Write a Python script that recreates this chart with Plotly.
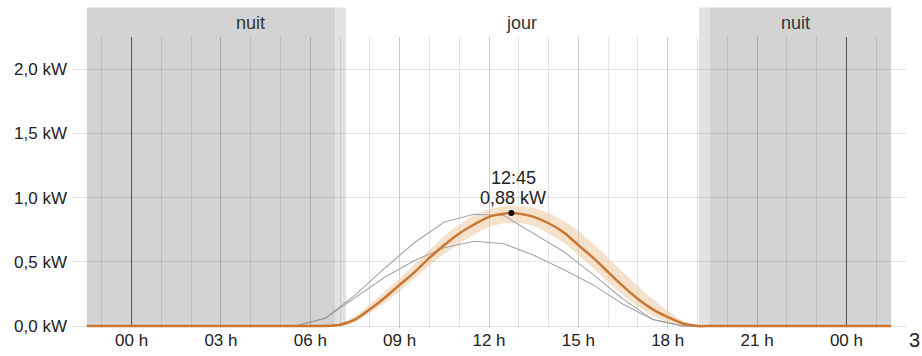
import plotly.graph_objects as go

# ---- data ----
prod_hours = [-1.5, 6.0, 6.5, 7.0, 7.5, 8.0, 8.5, 9.0, 9.5, 10.0, 10.5, 11.0, 11.5, 12.0,
              12.5, 12.75, 13.0, 13.5, 14.0, 14.5, 15.0, 15.5, 16.0, 16.5, 17.0, 17.5,
              18.0, 18.5, 19.0, 19.5, 25.5]
prod_kw = [0, 0, 0, 0.01, 0.05, 0.13, 0.22, 0.32, 0.42, 0.53, 0.63, 0.72, 0.79, 0.85,
           0.875, 0.88, 0.875, 0.85, 0.80, 0.73, 0.63, 0.53, 0.42, 0.31, 0.21, 0.13,
           0.07, 0.02, 0, 0, 0]
band_high = [0, 0, 0, 0.02, 0.08, 0.17, 0.27, 0.37, 0.48, 0.59, 0.70, 0.79, 0.86, 0.91,
             0.93, 0.935, 0.93, 0.92, 0.88, 0.82, 0.74, 0.64, 0.53, 0.42, 0.31, 0.21,
             0.12, 0.04, 0.01, 0, 0]
band_low = [0, 0, 0, 0, 0.03, 0.10, 0.18, 0.27, 0.37, 0.47, 0.56, 0.64, 0.71, 0.77,
            0.80, 0.80, 0.80, 0.78, 0.72, 0.65, 0.55, 0.45, 0.34, 0.24, 0.15, 0.08,
            0.03, 0, 0, 0, 0]

ref_hours = [-1.5, 5.5, 6.5, 7.5, 8.5, 9.5, 10.5, 11.5, 12.5, 13.5, 14.5, 15.5, 16.5,
             17.5, 18.5, 25.5]
ref_day1_kw = [0, 0, 0.06, 0.24, 0.45, 0.65, 0.81, 0.87, 0.86, 0.72, 0.58, 0.40, 0.21,
               0.05, 0, 0]
ref_day2_kw = [0, 0, 0.06, 0.22, 0.38, 0.51, 0.61, 0.66, 0.64, 0.55, 0.44, 0.32, 0.17,
               0.05, 0, 0]

peak_hour = 12.75
peak_kw = 0.88
peak_time_text = "12:45"
peak_value_text = "0,88 kW"

x_tick_vals = [0, 3, 6, 9, 12, 15, 18, 21, 24]
x_tick_text = ["00 h", "03 h", "06 h", "09 h", "12 h", "15 h", "18 h", "21 h", "00 h"]
y_tick_vals = [0, 0.5, 1.0, 1.5, 2.0]
y_tick_text = ["0,0 kW", "0,5 kW", "1,0 kW", "1,5 kW", "2,0 kW"]

night1 = (-1.5, 6.85)
dawn = (6.85, 7.2)
dusk = (19.05, 19.4)
night2 = (19.4, 25.5)
period_labels = [("nuit", 4.0), ("jour", 13.1), ("nuit", 22.3)]
corner_text = "3"

FONT = "Liberation Sans, Arial, sans-serif"
ORANGE = "#c97631"

W, H = 922, 356
ML, MR, MT, MB = 72, 16, 37, 28
PH = H - MT - MB  # plot height
PW = W - ML - MR

fig = go.Figure()

fig.add_trace(go.Scatter(x=prod_hours, y=band_low, mode="lines",
                         line=dict(width=0, shape="spline", smoothing=0.8),
                         hoverinfo="skip", showlegend=False))
fig.add_trace(go.Scatter(x=prod_hours, y=band_high, mode="lines", fill="tonexty",
                         fillcolor="rgba(234,198,155,0.5)",
                         line=dict(width=0, shape="spline", smoothing=0.8),
                         hoverinfo="skip", showlegend=False))
for ys in (ref_day1_kw, ref_day2_kw):
    fig.add_trace(go.Scatter(x=ref_hours, y=ys, mode="lines",
                             line=dict(color="rgba(150,150,150,0.85)", width=1.1),
                             hoverinfo="skip", showlegend=False))
fig.add_trace(go.Scatter(x=prod_hours, y=prod_kw, mode="lines",
                         line=dict(color=ORANGE, width=2.5, shape="spline", smoothing=0.8),
                         showlegend=False))
fig.add_trace(go.Scatter(x=[peak_hour], y=[peak_kw], mode="markers",
                         marker=dict(color="black", size=6),
                         cliponaxis=False, showlegend=False))

fig.add_annotation(x=peak_hour, y=peak_kw, xref="x", yref="y", text=peak_value_text,
                   showarrow=False, yanchor="middle", xanchor="center", yshift=15, xshift=2,
                   font=dict(size=18, color="#222", family=FONT))
fig.add_annotation(x=peak_hour, y=peak_kw, xref="x", yref="y", text=peak_time_text,
                   showarrow=False, yanchor="middle", xanchor="center", yshift=35, xshift=2,
                   font=dict(size=18, color="#222", family=FONT))

top_paper = 1 + (MT - 7.5) / PH
bot_paper = 2 / PH
for (a, b), col in [(night1, "#d3d3d3"), (dawn, "#e2e2e2"), (dusk, "#e2e2e2"), (night2, "#d3d3d3")]:
    fig.add_shape(type="rect", xref="x", yref="paper", x0=a, x1=b, y0=bot_paper, y1=top_paper,
                  fillcolor=col, line=dict(width=0), layer="below")

for h in (0, 24):
    fig.add_shape(type="line", xref="x", yref="paper", x0=h, x1=h, y0=bot_paper, y1=1,
                  line=dict(color="#666", width=1), layer="below")

for txt, xh in period_labels:
    fig.add_annotation(x=xh, xref="x", y=1 + (MT - 23) / PH, yref="paper", text=txt,
                       showarrow=False, yanchor="middle", xanchor="center",
                       font=dict(size=18, color="#333", family=FONT))

fig.add_annotation(x=1 + 8 / PW, xref="paper", y=-12 / PH, yref="paper",
                   text=corner_text, showarrow=False, xanchor="center", yanchor="middle",
                   font=dict(size=20, color="#222", family=FONT))

fig.update_layout(
    width=W, height=H,
    margin=dict(l=ML, r=MR, t=MT, b=MB, autoexpand=False),
    paper_bgcolor="white", plot_bgcolor="white",
    font=dict(family=FONT, size=17, color="#333"),
    xaxis=dict(range=[-2, 26], tickvals=x_tick_vals, ticktext=x_tick_text, automargin=False,
               showgrid=True, gridcolor="rgba(0,0,0,0.1)", gridwidth=1,
               minor=dict(dtick=1, tick0=0, showgrid=True, gridcolor="rgba(0,0,0,0.1)", gridwidth=1),
               zeroline=False, showline=False, ticks="", tickfont=dict(size=17, color="#222")),
    yaxis=dict(range=[-0.0155, 2.25], tickvals=y_tick_vals, ticktext=y_tick_text, automargin=False,
               showgrid=True, gridcolor="rgba(0,0,0,0.1)", gridwidth=1,
               zeroline=False, showline=False, ticks="", ticklabelstandoff=4,
               tickfont=dict(size=17, color="#222")),
)

fig.write_html("out.html", config={"displayModeBar": False},
               post_script="document.body.style.margin='0';document.body.style.overflow='hidden';")
